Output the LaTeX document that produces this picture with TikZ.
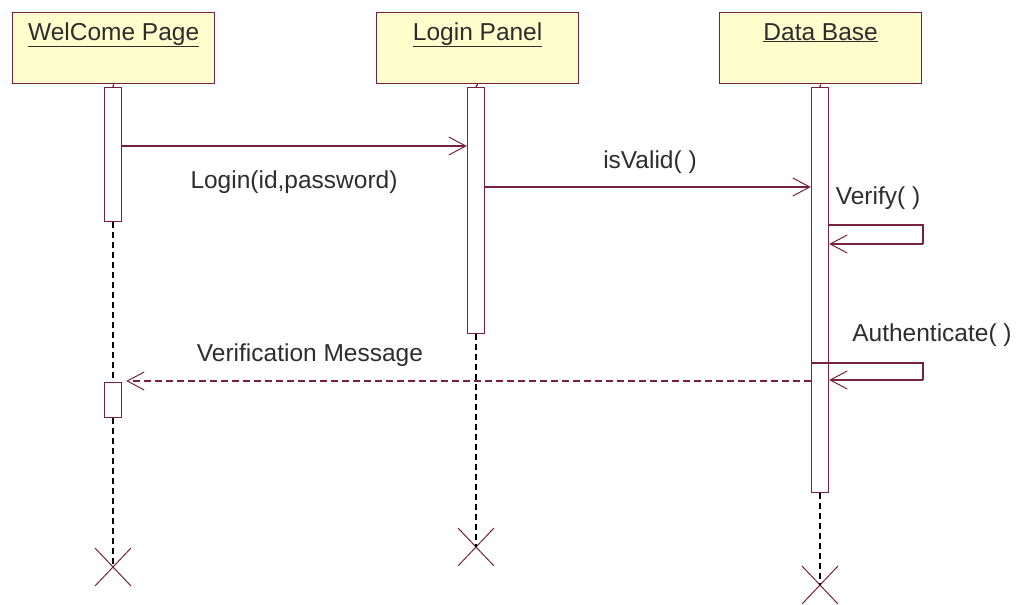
\documentclass[tikz,border=0pt]{standalone}
\usepackage{fontspec}
\setmainfont{Liberation Sans}
\usetikzlibrary{arrows.meta,calc}
\definecolor{mar}{RGB}{118,34,62}
\definecolor{boxfill}{RGB}{255,255,206}
\definecolor{txt}{RGB}{45,45,45}
\begin{document}
\begin{tikzpicture}[x=1pt,y=-1pt,
  obj/.style={draw=mar,line width=1.3pt,fill=boxfill,minimum width=202pt,minimum height=71pt,anchor=north west,inner sep=0pt},
  title/.style={text=txt,font=\fontsize{24.5}{28}\selectfont,inner sep=0pt,anchor=base},
  act/.style={draw=mar,line width=1.3pt,fill=white,minimum width=17pt,anchor=north,inner sep=0pt},
  lbl/.style={text=txt,font=\fontsize{24.5}{28}\selectfont,inner sep=0pt},
  msg/.style={draw=mar,line width=1.3pt,-{Straight Barb[length=17pt,width=18pt,line width=1pt]}},
  ret/.style={draw=mar,line width=1.2pt,dash pattern=on 7pt off 4pt,-{Straight Barb[length=17pt,width=18pt,line width=1pt]}},
  life/.style={draw=black,line width=1.2pt,dash pattern=on 6pt off 4pt},
  xmark/.style={draw=mar,line width=1pt},
  tick/.style={draw=mar,line width=1.3pt}]
\useasboundingbox (0,0) rectangle (1021,605);

% objects
\node[obj] (wp) at (12,12) {};
\node[obj] (lp) at (376,12) {};
\node[obj] (db) at (719,12) {};
\node[title] (wpt) at ([yshift=-28pt]wp.north) {\underline{WelCome Page}};
\node[title] (lpt) at ([yshift=-28pt]lp.north) {\underline{Login Panel}};
\node[title] (dbt) at ([yshift=-28pt]db.north) {\underline{Data Base}};

% activations
\node[act,minimum height=134pt] (a1) at (113,87) {};
\node[act,minimum height=35pt] (a1b) at (113,382) {};
\node[act,minimum height=246pt] (a2) at (476,87) {};
\node[act,minimum height=405pt] (a3) at (820,87) {};

\draw[tick] (wp.south) -- (a1.north);
\draw[tick] (lp.south) -- (a2.north);
\draw[tick] (db.south) -- (a3.north);

% end markers
\coordinate (x1) at (113,567);
\coordinate (x2) at (476,547);
\coordinate (x3) at (820,585);
\draw[xmark] ($(x1)+(-18,-19)$) -- ($(x1)+(18,19)$) ($(x1)+(18,-19)$) -- ($(x1)+(-18,19)$);
\draw[xmark] ($(x2)+(-18,-19)$) -- ($(x2)+(18,19)$) ($(x2)+(18,-19)$) -- ($(x2)+(-18,19)$);
\draw[xmark] ($(x3)+(-18,-19)$) -- ($(x3)+(18,19)$) ($(x3)+(18,-19)$) -- ($(x3)+(-18,19)$);

% lifelines
\draw[life] (a1.south) -- (a1b.north);
\draw[life] (a1b.south) -- (x1);
\draw[life] (a2.south) -- (x2);
\draw[life] (a3.south) -- (x3);

% messages
\coordinate (m1) at (0,146);
\coordinate (m2) at (0,187);
\draw[msg] (a1.east |- m1) -- (a2.west |- m1);
\node[lbl] (m1l) at (294,182) {Login(id,password)};
\draw[msg] (a2.east |- m2) -- (a3.west |- m2);
\node[lbl] (m2l) at (650,162) {isValid( )};

% Verify self message
\coordinate (v1) at (923,225);
\coordinate (v2) at (923,244);
\draw[tick] (a3.east |- v1) -- (v1) -- (v2);
\draw[msg] (v2) -- (a3.east |- v2);
\node[lbl] (vl) at (878,198) {Verify( )};

% Authenticate self message
\coordinate (u1) at (923,363);
\coordinate (u2) at (923,380);
\draw[tick] (a3.west |- u1) -- (u1) -- (u2);
\draw[msg] (u2) -- (a3.east |- u2);
\node[lbl] (ul) at (932,335) {Authenticate( )};

% return message
\coordinate (r1) at (0,381);
\draw[ret] (a3.west |- r1) -- ([xshift=4pt]a1b.east |- r1);
\node[lbl] (rl) at (310,355) {Verification Message};
\end{tikzpicture}
\end{document}
